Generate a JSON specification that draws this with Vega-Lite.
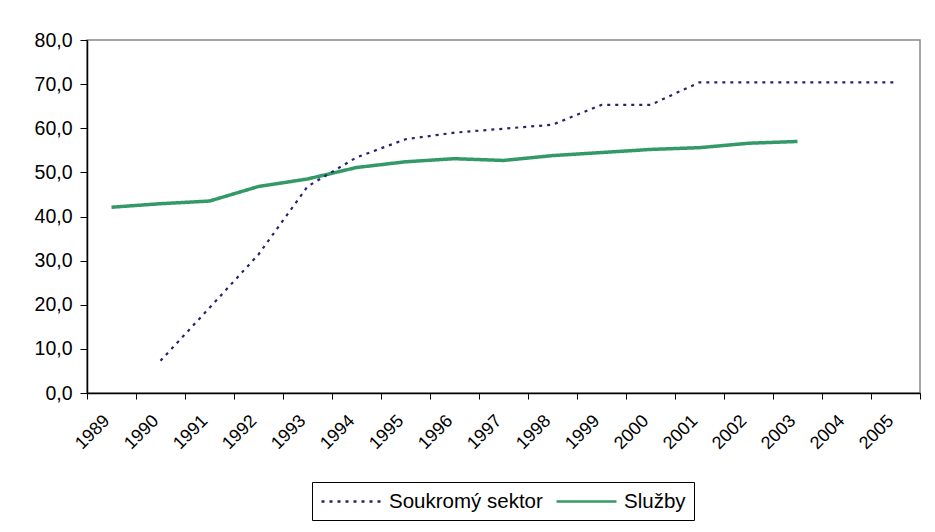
{
  "$schema": "https://vega.github.io/schema/vega-lite/v6.json",
  "autosize": {"type": "none"},
  "width": 833,
  "height": 353,
  "padding": {"left": 87, "top": 40, "right": 15, "bottom": 139},
  "background": "white",
  "config": {
    "font": "Liberation Sans",
    "view": {"stroke": "#888888", "strokeWidth": 1.5},
    "axis": {"grid": false, "domainColor": "#000000", "tickColor": "#000000", "labelColor": "#000000", "labelFont": "Liberation Sans", "title": null}
  },
  "data": {
    "values": [
      {"year": "1989", "series": "Služby", "value": 42.1},
      {"year": "1990", "series": "Služby", "value": 42.9},
      {"year": "1991", "series": "Služby", "value": 43.5},
      {"year": "1992", "series": "Služby", "value": 46.8},
      {"year": "1993", "series": "Služby", "value": 48.5},
      {"year": "1994", "series": "Služby", "value": 51.1},
      {"year": "1995", "series": "Služby", "value": 52.4},
      {"year": "1996", "series": "Služby", "value": 53.1},
      {"year": "1997", "series": "Služby", "value": 52.7},
      {"year": "1998", "series": "Služby", "value": 53.8},
      {"year": "1999", "series": "Služby", "value": 54.5},
      {"year": "2000", "series": "Služby", "value": 55.2},
      {"year": "2001", "series": "Služby", "value": 55.6},
      {"year": "2002", "series": "Služby", "value": 56.6},
      {"year": "2003", "series": "Služby", "value": 57.0},
      {"year": "1990", "series": "Soukromý sektor", "value": 7.3},
      {"year": "1991", "series": "Soukromý sektor", "value": 19.3},
      {"year": "1992", "series": "Soukromý sektor", "value": 31.4},
      {"year": "1993", "series": "Soukromý sektor", "value": 46.8},
      {"year": "1994", "series": "Soukromý sektor", "value": 53.4},
      {"year": "1995", "series": "Soukromý sektor", "value": 57.5},
      {"year": "1996", "series": "Soukromý sektor", "value": 59.0},
      {"year": "1997", "series": "Soukromý sektor", "value": 59.9},
      {"year": "1998", "series": "Soukromý sektor", "value": 60.8},
      {"year": "1999", "series": "Soukromý sektor", "value": 65.3},
      {"year": "2000", "series": "Soukromý sektor", "value": 65.3},
      {"year": "2001", "series": "Soukromý sektor", "value": 70.4},
      {"year": "2002", "series": "Soukromý sektor", "value": 70.4},
      {"year": "2003", "series": "Soukromý sektor", "value": 70.4},
      {"year": "2004", "series": "Soukromý sektor", "value": 70.4},
      {"year": "2005", "series": "Soukromý sektor", "value": 70.4}
    ]
  },
  "mark": {"type": "line", "strokeCap": "butt"},
  "encoding": {
    "x": {
      "field": "year",
      "type": "ordinal",
      "bandPosition": 0.5,
      "scale": {"type": "band", "paddingInner": 0, "paddingOuter": 0, "domain": ["1989","1990","1991","1992","1993","1994","1995","1996","1997","1998","1999","2000","2001","2002","2003","2004","2005"]},
      "axis": {
        "tickBand": "extent",
        "tickSize": 6,
        "labelAngle": -45,
        "labelAlign": "right",
        "labelBaseline": "middle",
        "labelPadding": 19,
        "labelOffset": -5,
        "labelFontSize": 18,
        "domainWidth": 1.5
      }
    },
    "y": {
      "field": "value",
      "type": "quantitative",
      "scale": {"domain": [0, 80], "nice": false, "zero": true},
      "axis": {
        "values": [0, 10, 20, 30, 40, 50, 60, 70, 80],
        "labelExpr": "replace(format(datum.value, '.1f'), '.', ',')",
        "tickSize": 7,
        "labelPadding": 8,
        "labelFontSize": 19.5,
        "domainWidth": 1.5
      }
    },
    "color": {
      "field": "series",
      "type": "nominal",
      "scale": {"domain": ["Soukromý sektor", "Služby"], "range": ["#25236e", "#339966"]},
      "legend": {
        "title": null,
        "orient": "none",
        "legendX": 225,
        "legendY": 442,
        "direction": "horizontal",
        "symbolType": "M-3,0H3",
        "symbolSize": 400,
        "symbolOffset": 20,
        "symbolStrokeWidth": 2.5,
        "labelFontSize": 20.5,
        "labelColor": "#000000",
        "labelFont": "Liberation Sans",
        "labelOffset": 26,
        "columnPadding": 8,
        "padding": 8,
        "strokeColor": "#000000",
        "fillColor": "white",
        "cornerRadius": 0
      }
    },
    "strokeDash": {
      "field": "series",
      "type": "nominal",
      "scale": {"domain": ["Soukromý sektor", "Služby"], "range": [[3, 5], [1, 0]]},
      "legend": null
    },
    "strokeWidth": {
      "condition": {"test": "datum.series === 'Služby'", "value": 3.5},
      "value": 2.2
    }
  }
}
